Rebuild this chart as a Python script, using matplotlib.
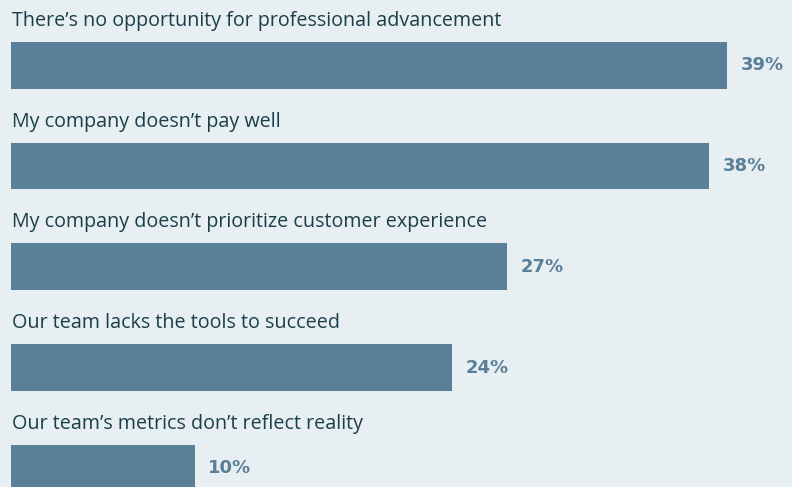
import matplotlib.pyplot as plt

categories = [
    "There\u2019s no opportunity for professional advancement",
    "My company doesn\u2019t pay well",
    "My company doesn\u2019t prioritize customer experience",
    "Our team lacks the tools to succeed",
    "Our team\u2019s metrics don\u2019t reflect reality",
]
values = [39, 38, 27, 24, 10]

bg = "#e8eff3"
bar_color = "#5a7f99"
text_color = "#1a3f4a"

plt.rcParams['font.family'] = ['Open Sans', 'DejaVu Sans']

fig = plt.figure(figsize=(7.92, 4.87), dpi=100, facecolor=bg)
ax = fig.add_axes([0, 0, 1, 1])
ax.set_facecolor(bg)

pos = list(range(len(values)))
ax.barh(pos, values, height=0.4635, color=bar_color, left=0)

for p, cat, v in zip(pos, categories, values):
    ax.text(0.03, p - 0.39, cat, ha='left', va='baseline',
            fontsize=14.2, color=text_color)
    ax.text(v + 0.75, p, f"{v}%", ha='left', va='center',
            fontsize=13, fontweight='bold', color=bar_color,
            family='DejaVu Sans')

ax.set_xlim(-11 / 18.36, (792 - 11) / 18.36)
ax.set_ylim(4.186, -0.648)
ax.axis('off')

fig.savefig("out.png", dpi=100, facecolor=bg)
